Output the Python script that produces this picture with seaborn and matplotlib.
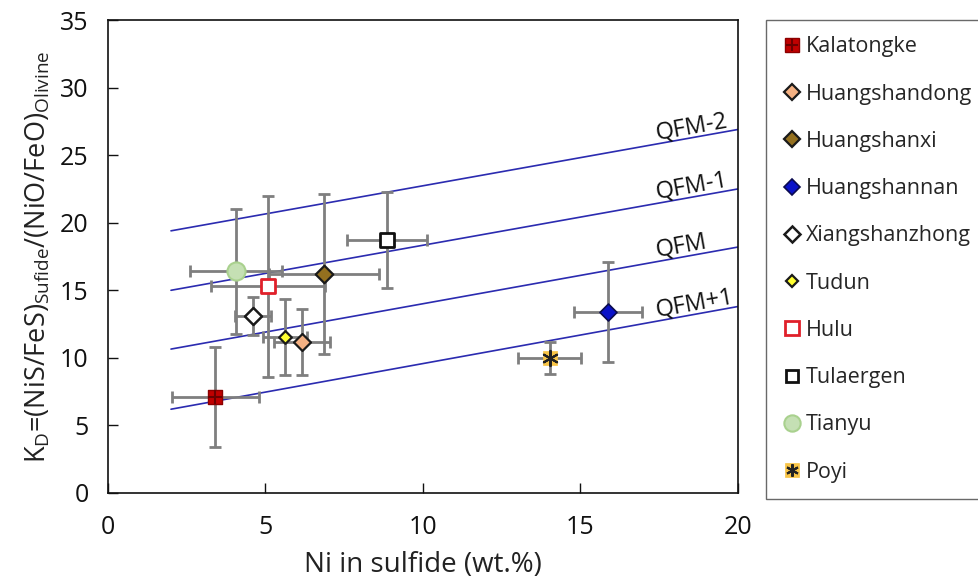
import matplotlib
matplotlib.use("Agg")
import matplotlib.pyplot as plt
from matplotlib.lines import Line2D
import seaborn as sns
import pandas as pd

# Ni content of sulfide (wt.%) and Ni-Fe exchange coefficient per deposit
sites = ["Kalatongke", "Huangshandong", "Huangshanxi", "Huangshannan",
         "Xiangshanzhong", "Tudun", "Hulu", "Tulaergen", "Tianyu", "Poyi"]
ni_sulfide = [3.40, 6.16, 6.86, 15.87, 4.60, 5.62, 5.08, 8.86, 4.06, 14.03]
ni_err = [1.38, 0.90, 1.75, 1.09, 0.57, 0.70, 1.80, 1.26, 1.45, 1.00]
kd = [7.1, 11.2, 16.2, 13.4, 13.1, 11.55, 15.3, 18.7, 16.4, 10.0]
kd_err = [3.7, 2.45, 5.9, 3.7, 1.4, 2.8, 6.7, 3.55, 4.65, 1.2]

# Oxygen fugacity buffer reference lines (end points)
buffers = ["QFM-2", "QFM-1", "QFM", "QFM+1"]
buffer_x = [2, 20]
buffer_kd = [[19.4, 26.9], [15.0, 22.5], [10.65, 18.2], [6.2, 13.8]]

x_ticks = [0, 5, 10, 15, 20]
y_ticks = [0, 5, 10, 15, 20, 25, 30, 35]

styles = {
    "Kalatongke":     dict(marker="s", s=115, fc="#C00000", ec="#8B0000", lw=1.0),
    "Huangshandong":  dict(marker="D", s=75, fc="#F4B183", ec="#1a1a1a", lw=1.6),
    "Huangshanxi":    dict(marker="D", s=80, fc="#94701F", ec="#1a1a1a", lw=1.6),
    "Huangshannan":   dict(marker="D", s=75, fc="#0A12C8", ec="#0a0a50", lw=1.2),
    "Xiangshanzhong": dict(marker="D", s=75, fc="white", ec="#1a1a1a", lw=1.8),
    "Tudun":          dict(marker="D", s=42, fc="#FFFF30", ec="#1a1a1a", lw=1.6),
    "Hulu":           dict(marker="s", s=110, fc="white", ec="#E0202A", lw=2.0),
    "Tulaergen":      dict(marker="s", s=105, fc="white", ec="#111111", lw=2.0),
    "Tianyu":         dict(marker="o", s=170, fc="#C5E0B4", ec="#A9D18E", lw=1.5),
    "Poyi":           dict(marker="s", s=110, fc="#F8C446", ec="#F8C446", lw=0.5),
}

sns.set_theme(style="white")
plt.rcParams["font.family"] = ["Open Sans", "DejaVu Sans"]
plt.rcParams["mathtext.default"] = "regular"

fig = plt.figure(figsize=(9.79, 5.83), dpi=100)
ax = fig.add_axes([108 / 979, 1 - 493 / 583, 630 / 979, 473 / 583])

# buffer lines, labels left-aligned near the right edge
label_x = 17.43
for name, vals in zip(buffers, buffer_kd):
    line_df = pd.DataFrame({"x": buffer_x, "y": vals})
    sns.lineplot(data=line_df, x="x", y="y", ax=ax, color="#2B2BB0", lw=1.2,
                 legend=False, zorder=1)
    slope = (vals[1] - vals[0]) / (buffer_x[1] - buffer_x[0])
    ty = vals[0] + slope * (label_x - buffer_x[0]) + 0.3
    ax.text(label_x, ty, name, ha="left", va="baseline", fontsize=17, color="#111111",
            rotation=10.2, rotation_mode="anchor")

# error bars
ax.errorbar(ni_sulfide, kd, xerr=ni_err, yerr=kd_err, fmt="none",
            ecolor="#7F7F7F", elinewidth=2, capsize=4, capthick=2, zorder=2)

df = pd.DataFrame({"site": sites, "ni": ni_sulfide, "kd": kd})
for site in sites:
    st = styles[site]
    sub = df[df["site"] == site]
    sns.scatterplot(data=sub, x="ni", y="kd", ax=ax, marker=st["marker"], s=st["s"],
                    color=st["fc"], edgecolor=st["ec"], linewidth=st["lw"],
                    zorder=3, legend=False)
    if site == "Kalatongke":
        ax.scatter(sub["ni"], sub["kd"], marker="+", s=90, color="#6B0000",
                   linewidth=1.5, zorder=4)
    if site == "Poyi":
        ax.scatter(sub["ni"], sub["kd"], marker=(6, 2, 0), s=120, color="#222222",
                   linewidth=1.5, zorder=4)

ax.set_xlim(0, 20)
ax.set_ylim(0, 35)
ax.set_xticks(x_ticks)
ax.set_yticks(y_ticks)
ax.tick_params(axis="both", labelsize=18, direction="in", length=7, width=1,
               colors="#111111", left=True, bottom=True)
ax.tick_params(axis="y", pad=14)
ax.tick_params(axis="x", pad=16)
for sp in ax.spines.values():
    sp.set_color("#111111")
    sp.set_linewidth(1.2)
ax.set_xlabel("Ni in sulfide (wt.%)", fontsize=20, color="#222222", labelpad=8)
ax.set_ylabel(r"K$_{D}$=(NiS/FeS)$_{Sufide}$/(NiO/FeO)$_{Olivine}$",
              fontsize=19.5, color="#222222", labelpad=5)

# legend
handles = []
for site in sites:
    st = styles[site]
    ms = (st["s"] ** 0.5) * 0.9
    handles.append(Line2D([], [], ls="none", marker=st["marker"], markersize=ms,
                          markerfacecolor=st["fc"], markeredgecolor=st["ec"],
                          markeredgewidth=st["lw"]))
handles[0] = (handles[0], Line2D([], [], ls="none", marker="+", markersize=8,
                                 markeredgecolor="#6B0000", markeredgewidth=1.5))
handles[-1] = (handles[-1], Line2D([], [], ls="none", marker=(6, 2, 0), markersize=9,
                                   markeredgecolor="#222222", markeredgewidth=1.5))
leg = fig.legend(handles, sites, loc="upper left",
                 bbox_to_anchor=(766 / 979, 1 - 20 / 583), fontsize=15.5, frameon=True,
                 fancybox=False, edgecolor="#444444", labelspacing=1.22,
                 handlelength=0.85, handletextpad=0.25, borderpad=0.76,
                 borderaxespad=0)
leg.get_frame().set_linewidth(1.0)

fig.savefig("out.png", dpi=100)
